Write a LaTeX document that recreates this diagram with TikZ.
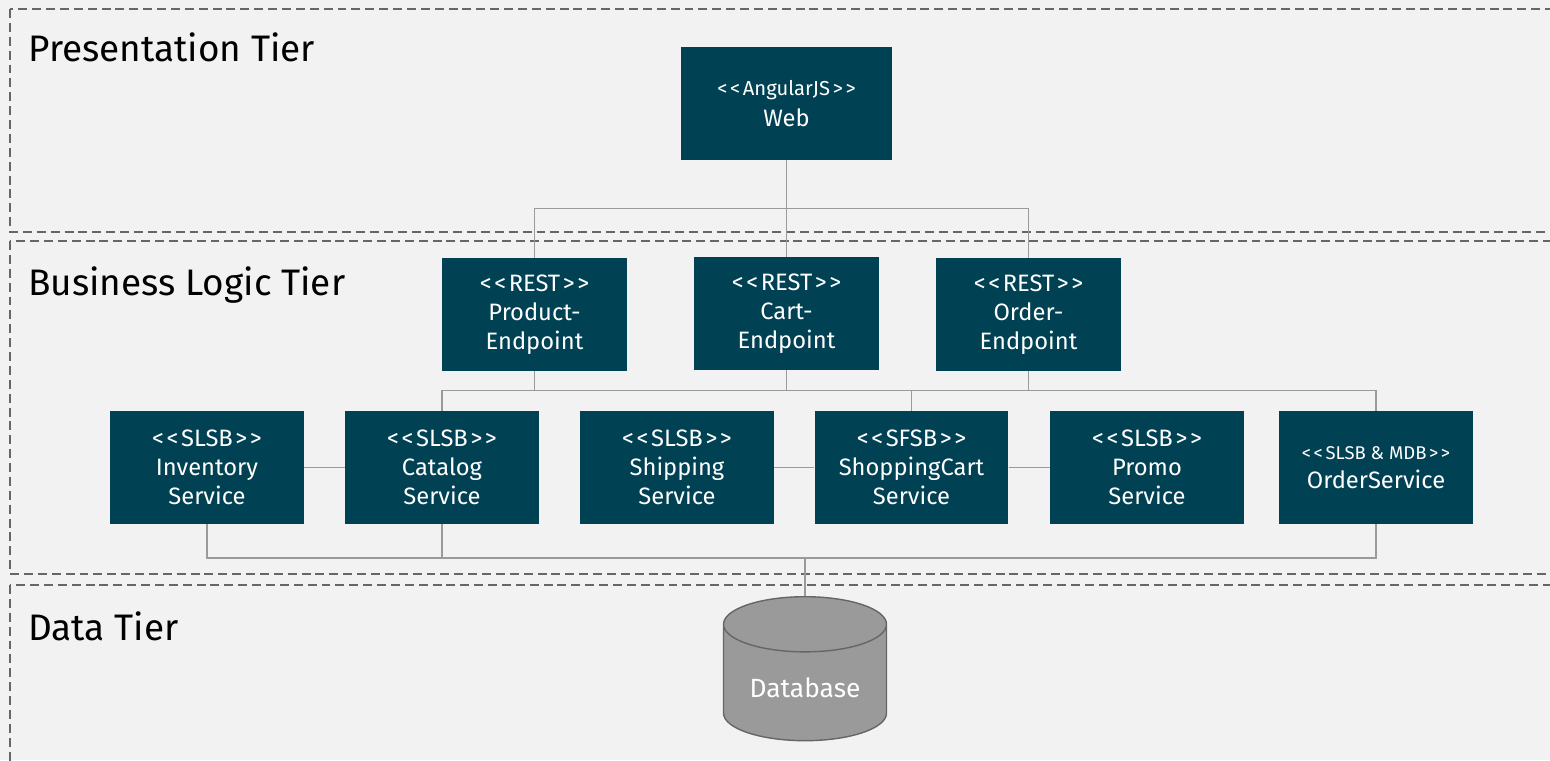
\documentclass[tikz,border=0pt]{standalone}
\usepackage{fontspec}
\setmainfont{Fira Sans}
\usepackage{tikz}
\usetikzlibrary{shapes.geometric}
\usetikzlibrary{calc}

\definecolor{boxteal}{HTML}{004153}
\definecolor{bggray}{HTML}{F2F2F2}
\definecolor{linegray}{HTML}{9A9A9A}
\definecolor{tiergray}{HTML}{666666}

% << >> without the guillemet ligature
\newcommand{\stereo}[1]{<\kern1.5pt<\kern1.5pt#1\kern1.5pt>\kern1.5pt>}

\begin{document}
\begin{tikzpicture}[x=0.02cm,y=-0.02cm,
tier/.style={draw=tiergray,dash pattern=on 5.1pt off 2.8pt,line width=1.1pt},
tiertitle/.style={anchor=base west,inner sep=0pt,font=\fontsize{21}{25}\selectfont},
block/.style={fill=boxteal,text=white,align=center,inner sep=0pt,minimum height=2.26cm,
  font=\fontsize{13.5}{16.4}\selectfont},
svc/.style={block,minimum width=3.88cm},
endp/.style={block,minimum width=3.7cm},
conn/.style={draw=linegray,line width=1.1pt}]

% hatter
\fill[bggray] (0,0) rectangle (1550,760);
\useasboundingbox (0,0) rectangle (1550,760);
\clip (0,0) rectangle (1550,760);

% retegek
\draw[tier] (10,9) rectangle (1600,232);
\draw[tier] (10,241) rectangle (1600,574);
\draw[tier] (10,585) rectangle (1600,800);
\node[tiertitle] (prestitle) at (28,62) {Presentation Tier};
\node[tiertitle] (bustitle) at (28,295) {Business Logic Tier};
\node[tiertitle] (datatitle) at (28,640) {Data Tier};

% blokkok
\node[block,minimum width=4.22cm] (web) at (786.5,103.5) {{\fontsize{11.5}{13}\selectfont \stereo{AngularJS}}\\[1pt]Web};

\node[endp] (prodep) at (534.5,314.5) {\stereo{REST}\\Product-\\Endpoint};
\node[endp] (cartep) at (786.5,313.5) {\stereo{REST}\\Cart-\\Endpoint};
\node[endp] (orderep) at (1028.5,314.5) {\stereo{REST}\\Order-\\Endpoint};

\node[svc] (invsrv) at (207,467.5) {\stereo{SLSB}\\Inventory\\Service};
\node[svc] (catsrv) at (442,467.5) {\stereo{SLSB}\\Catalog\\Service};
\node[svc] (shipsrv) at (677,467.5) {\stereo{SLSB}\\Shipping\\Service};
\node[svc] (cartsrv) at (911.5,467.5) {\stereo{SFSB}\\ShoppingCart\\Service};
\node[svc] (promosrv) at (1147,467.5) {\stereo{SLSB}\\Promo\\Service};
\node[svc] (ordersrv) at (1376,467.5) {{\fontsize{10.5}{13}\selectfont \stereo{SLSB \& MDB}}\\OrderService};

\node[cylinder,shape border rotate=90,aspect=0.45,draw=tiergray,line width=0.8pt,fill=linegray,
  text=white,minimum width=3.26cm,minimum height=2.88cm,anchor=north,
  font=\fontsize{15}{18}\selectfont] (db) at (805,596) {Database};

% osszekotesek
\coordinate (topbus) at ($(web.south)!0.5!(cartep.north)$);
\coordinate (midbus) at ($(cartep.south)!0.5!(cartsrv.north)$);
\coordinate (botbus) at (0,558);

\draw[conn] (web.south) -- (cartep.north);
\draw[conn] (prodep.north) |- (topbus) -| (orderep.north);

\draw[conn] (catsrv.north) |- (midbus) -| (ordersrv.north);
\draw[conn] (prodep.south) -- (prodep.south |- midbus);
\draw[conn] (cartep.south) -- (cartep.south |- midbus);
\draw[conn] (orderep.south) -- (orderep.south |- midbus);
\draw[conn] (cartsrv.north) -- (cartsrv.north |- midbus);

\draw[conn] (invsrv) -- (catsrv);
\draw[conn] (shipsrv) -- (cartsrv) -- (promosrv);

\draw[conn] (invsrv.south) |- (botbus -| db.north) -| (ordersrv.south);
\draw[conn] (catsrv.south) -- (catsrv.south |- botbus);
\draw[conn] (db.north) -- (db.north |- botbus);
\end{tikzpicture}
\end{document}
